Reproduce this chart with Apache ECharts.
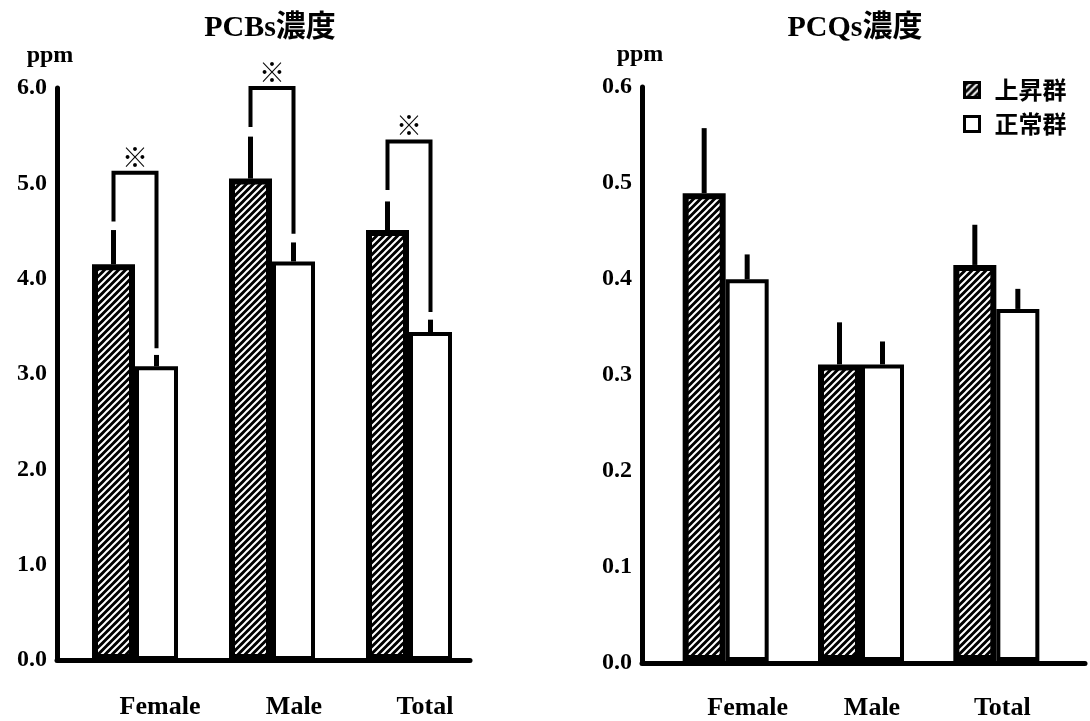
<!DOCTYPE html>
<html><head><meta charset="utf-8">
<script src="https://cdn.jsdelivr.net/npm/echarts@6/dist/echarts.min.js"></script>
<style>html,body{margin:0;padding:0;background:#fff}#c{width:1090px;height:721px}</style>
</head><body><div id="c"></div>
<script>
// ---------- data ----------
const categories = ['Female', 'Male', 'Total'];
const seriesNames = ['上昇群', '正常群'];
const titles = ['PCBs濃度', 'PCQs濃度'];
const unitName = 'ppm';
const sigMark = '※';

// PCBs concentration (ppm)
const pcbRise = [4.15, 5.05, 4.51];
const pcbRiseErrTop = [4.51, 5.49, 4.81];
const pcbNormal = [3.08, 4.18, 3.44];
const pcbNormalErrTop = [3.20, 4.38, 3.57];
const pcbSigTop = [5.11, 6.0, 5.44];
const pcbSigLeftEnd = [4.60, 5.59, 4.93];
const pcbSigRightEnd = [3.27, 4.47, 3.65];
const pcbAxis = { min: 0, max: 6, step: 1 };

// PCQs concentration (ppm)
const pcqRise = [0.489, 0.310, 0.414];
const pcqRiseErrTop = [0.557, 0.354, 0.456];
const pcqNormal = [0.399, 0.310, 0.368];
const pcqNormalErrTop = [0.425, 0.334, 0.389];
const pcqAxis = { min: 0, max: 0.6, step: 0.1 };

// ---------- styling ----------
const BAR_W = 43;
const SERIF = '"Liberation Serif", "Times New Roman", "Noto Sans CJK JP", serif';
const CJK = '"Noto Sans CJK JP", sans-serif';
const leftLabelPads = [50, 44, 32];
const rightLabelPads = [44, 22, 12];

function hatch() {
  const s = 7;
  const c = document.createElement('canvas');
  c.width = s; c.height = s;
  const g = c.getContext('2d');
  g.fillStyle = '#000'; g.fillRect(0, 0, s, s);
  g.strokeStyle = '#fff'; g.lineWidth = 2;
  g.beginPath();
  g.moveTo(0, s); g.lineTo(s, 0);
  g.moveTo(-1, 1); g.lineTo(1, -1);
  g.moveTo(s - 1, s + 1); g.lineTo(s + 1, s - 1);
  g.stroke();
  return c;
}
const hatchPattern = { image: hatch(), repeat: 'repeat' };

function errItem(offset, lw) {
  return function (params, api) {
    const p0 = api.coord([api.value(0), api.value(1)]);
    const p1 = api.coord([api.value(0), api.value(2)]);
    const x = p0[0] + offset;
    return { type: 'line', shape: { x1: x, y1: p0[1], x2: x, y2: p1[1] },
      style: { stroke: '#000', lineWidth: lw } };
  };
}
function bracketItem(params, api) {
  const i = api.value(0);
  const t = api.coord([i, api.value(1)]);
  const l = api.coord([i, api.value(2)]);
  const r = api.coord([i, api.value(3)]);
  const xl = t[0] - BAR_W / 2, xr = t[0] + BAR_W / 2;
  return { type: 'group', children: [
    { type: 'polyline', shape: { points: [[xl, l[1]], [xl, t[1]], [xr, t[1]], [xr, r[1]]] },
      style: { stroke: '#000', lineWidth: 4, fill: 'none' } },
    { type: 'text', x: t[0], y: t[1] - 3,
      style: { text: sigMark, fontSize: 26, fontWeight: 'bold', fontFamily: CJK,
        align: 'center', verticalAlign: 'bottom', fill: '#000' } }
  ] };
}

function outerAxes(gi, ax, nameShift) {
  return {
    x: { gridIndex: gi, type: 'value', min: 0, max: 1, show: true,
      axisLine: { show: true, onZero: false, lineStyle: { color: '#000', width: 5 } },
      axisLabel: { show: false }, axisTick: { show: false }, splitLine: { show: false } },
    y: { gridIndex: gi, type: 'value', min: ax.min, max: ax.max, interval: ax.step,
      axisLine: { show: true, lineStyle: { color: '#000', width: 5 } },
      axisTick: { show: false }, splitLine: { show: false },
      axisLabel: { formatter: v => v.toFixed(1), color: '#000', fontFamily: SERIF,
        fontWeight: 'bold', fontSize: 24, margin: 10 },
      name: unitName, nameLocation: 'end', nameGap: 20,
      nameTextStyle: { color: '#000', fontFamily: SERIF, fontWeight: 'bold', fontSize: 24,
        align: 'center', padding: nameShift } }
  };
}
function innerAxes(gi, ax, pads) {
  return {
    x: { gridIndex: gi, type: 'category',
      data: categories.map((c, i) => ({ value: c, textStyle: { padding: [0, 0, 0, pads[i]] } })),
      axisLine: { show: false }, axisTick: { show: false },
      axisLabel: { color: '#000', fontFamily: SERIF, fontWeight: 'bold', fontSize: 26,
        margin: 34 } },
    y: { gridIndex: gi, type: 'value', min: ax.min, max: ax.max, show: false }
  };
}

const o0 = outerAxes(0, pcbAxis, [0, 14, 0, 0]);
const i1 = innerAxes(1, pcbAxis, leftLabelPads);
const o2 = outerAxes(2, pcqAxis, [0, 4, 0, 0]);
const i3 = innerAxes(3, pcqAxis, rightLabelPads);

function groupSeries(xi, rise, riseErr, normal, normalErr) {
  return [
    { name: seriesNames[0], type: 'bar', xAxisIndex: xi, yAxisIndex: xi, data: rise,
      barWidth: BAR_W, barGap: '0%', z: 3,
      itemStyle: { color: hatchPattern, borderColor: '#000', borderWidth: 6 } },
    { name: seriesNames[1], type: 'bar', xAxisIndex: xi, yAxisIndex: xi, data: normal,
      barWidth: BAR_W, barGap: '0%', z: 3,
      itemStyle: { color: '#fff', borderColor: '#000', borderWidth: 4 } },
    { type: 'custom', xAxisIndex: xi, yAxisIndex: xi, z: 5,
      data: categories.map((c, i) => [i, rise[i], riseErr[i]]),
      encode: { x: 0, y: 2 }, renderItem: errItem(-BAR_W / 2, 5) },
    { type: 'custom', xAxisIndex: xi, yAxisIndex: xi, z: 5,
      data: categories.map((c, i) => [i, normal[i], normalErr[i]]),
      encode: { x: 0, y: 2 }, renderItem: errItem(BAR_W / 2, 5) }
  ];
}

const option = {
  backgroundColor: '#fff',
  animation: false,
  title: [
    { text: titles[0], left: 265, top: 8, textAlign: 'center',
      textStyle: { fontFamily: SERIF, fontWeight: 'bold', fontSize: 30, color: '#000' } },
    { text: titles[1], left: 850, top: 8, textAlign: 'center',
      textStyle: { fontFamily: SERIF, fontWeight: 'bold', fontSize: 30, color: '#000' } }
  ],
  legend: {
    data: seriesNames, orient: 'vertical', left: 958, top: 73, icon: 'rect',
    itemWidth: 15, itemHeight: 15, itemGap: 10, selectedMode: false,
    itemStyle: { borderWidth: 3 },
    textStyle: { fontFamily: CJK, fontWeight: 'bold', fontSize: 24, color: '#000',
      padding: [0, 0, 0, 10] }
  },
  grid: [
    { left: 57, top: 88, width: 413, height: 572 },
    { left: 66.5, top: 88, width: 411, height: 572 },
    { left: 642, top: 87, width: 443, height: 576 },
    { left: 658, top: 87, width: 406, height: 576 }
  ],
  xAxis: [o0.x, i1.x, o2.x, i3.x],
  yAxis: [o0.y, i1.y, o2.y, i3.y],
  series: [
    ...groupSeries(1, pcbRise, pcbRiseErrTop, pcbNormal, pcbNormalErrTop),
    { type: 'custom', xAxisIndex: 1, yAxisIndex: 1, z: 5,
      data: categories.map((c, i) => [i, pcbSigTop[i], pcbSigLeftEnd[i], pcbSigRightEnd[i]]),
      encode: { x: 0, y: 1 }, renderItem: bracketItem },
    ...groupSeries(3, pcqRise, pcqRiseErrTop, pcqNormal, pcqNormalErrTop)
  ]
};

const chart = echarts.init(document.getElementById('c'), null, { renderer: 'canvas' });
chart.setOption(option);
</script>
</body></html>
